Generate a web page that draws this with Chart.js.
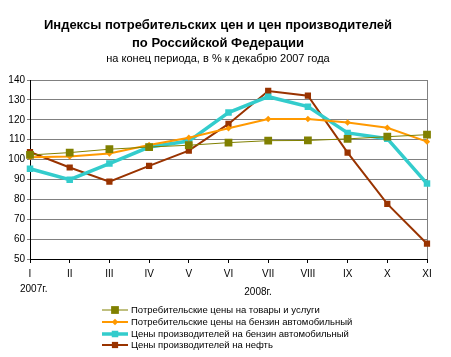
<!DOCTYPE html>
<html><head><meta charset="utf-8">
<script src="https://cdn.jsdelivr.net/npm/chart.js@4"></script>
<style>html,body{margin:0;padding:0;background:#fff}#wrap{width:451px;height:357px;position:relative}</style>
</head><body><div id="wrap"><canvas id="c" width="451" height="357"></canvas></div>
<script>
const categories = ["I","II","III","IV","V","VI","VII","VIII","IX","X","XI"];
const yearLabels = ["2007г.", "2008г."];
const titleLines = ["Индексы потребительских цен и цен производителей", "по Российской Федерации"];
const subtitle = "на конец периода, в % к декабрю 2007 года";
const seriesNames = [
  "Потребительские цены на товары и услуги",
  "Потребительские цены на бензин автомобильный",
  "Цены производителей на бензин автомобильный",
  "Цены производителей на нефть"
];
const consumerAll = [102.3, 103.5, 105.2, 106.3, 107.2, 108.5, 109.5, 109.6, 110.4, 111.5, 112.5];
const consumerGas = [101.2, 101.5, 103.0, 107.3, 111.0, 115.7, 120.4, 120.4, 118.6, 116.0, 109.0];
const producerGas = [95.4, 89.9, 98.0, 106.3, 109.3, 123.6, 131.6, 126.6, 113.4, 110.5, 87.9];
const producerOil = [103.8, 96.0, 88.9, 96.8, 104.5, 117.9, 134.5, 132.1, 103.5, 77.7, 57.7];
const yTicks = [50, 60, 70, 80, 90, 100, 110, 120, 130, 140];

const FONT = "'Liberation Sans', Arial, sans-serif";
const styles = [
  {color:'#808000', width:1, style:'rect', radius:5.5},
  {color:'#FF9900', width:2, style:'rectRot', radius:3.2},
  {color:'#33CCCC', width:3.5, style:'rect', radius:4.6},
  {color:'#993300', width:2, style:'rect', radius:4.4}
];
const values = [consumerAll, consumerGas, producerGas, producerOil];

const datasets = values.map((v,i)=>({
  label: seriesNames[i], data: v,
  borderColor: styles[i].color, backgroundColor: styles[i].color,
  borderWidth: styles[i].width, pointStyle: styles[i].style,
  pointRadius: styles[i].radius, pointBorderWidth: 0, pointHoverRadius: styles[i].radius,
  tension: 0, fill: false
}));

const decor = {
  id: 'decor',
  beforeDatasetsDraw(chart){
    const {ctx, chartArea:a} = chart;
    ctx.save();
    ctx.strokeStyle = '#808080'; ctx.lineWidth = 1;
    ctx.beginPath(); ctx.moveTo(Math.round(a.right)+0.5, a.top); ctx.lineTo(Math.round(a.right)+0.5, a.bottom); ctx.stroke();
    ctx.restore();
  },
  afterDraw(chart){
    const {ctx} = chart;
    ctx.save();
    ctx.fillStyle = '#000'; ctx.textAlign = 'center'; ctx.textBaseline = 'middle';
    ctx.font = "bold 13px " + FONT;
    ctx.fillText(titleLines[0], 218, 25);
    ctx.fillText(titleLines[1], 218, 43);
    ctx.font = "11px " + FONT;
    ctx.fillText(subtitle, 218, 59);
    ctx.font = "10px " + FONT;
    ctx.textAlign = 'left';
    ctx.fillText(yearLabels[0], 20, 289);
    ctx.textAlign = 'center';
    ctx.fillText(yearLabels[1], 258, 292);
    const rows = [310, 322, 334, 345];
    rows.forEach((y,i)=>{
      const s = styles[i];
      ctx.strokeStyle = s.color; ctx.lineWidth = s.width;
      ctx.beginPath(); ctx.moveTo(102, y); ctx.lineTo(128, y); ctx.stroke();
      ctx.fillStyle = s.color;
      Chart.helpers.drawPoint(ctx, {pointStyle: s.style, radius: s.radius, borderWidth: 0}, 115, y);
      ctx.fillStyle = '#000'; ctx.textAlign = 'left'; ctx.font = "9.5px " + FONT;
      ctx.fillText(seriesNames[i], 131, y);
    });
    ctx.restore();
  }
};

new Chart(document.getElementById('c'), {
  type: 'line',
  data: {labels: categories, datasets},
  options: {
    responsive: false, animation: false, devicePixelRatio: 1,
    layout: {padding: {left: 0, right: 24, top: 80, bottom: 78}},
    plugins: {legend: {display: false}, title: {display: false}, tooltip: {enabled: false}},
    scales: {
      x: {
        offset: false,
        grid: {display: true, drawOnChartArea: false, drawTicks: true, tickLength: 4, color: '#000'},
        border: {color: '#000', width: 1},
        ticks: {color: '#000', font: {family: FONT, size: 10}, padding: 5, maxRotation: 0, autoSkip: false},
        afterFit(s){ s.height = 20; }
      },
      y: {
        min: 50, max: 140,
        afterBuildTicks(s){ s.ticks = yTicks.map(v=>({value:v})); },
        grid: {color: '#808080', lineWidth: 1, drawTicks: true, tickLength: 3},
        border: {color: '#000', width: 1},
        ticks: {color: '#000', font: {family: FONT, size: 10}, padding: 2},
        afterFit(s){ s.width = 30; }
      }
    }
  },
  plugins: [decor]
});
</script></body></html>
